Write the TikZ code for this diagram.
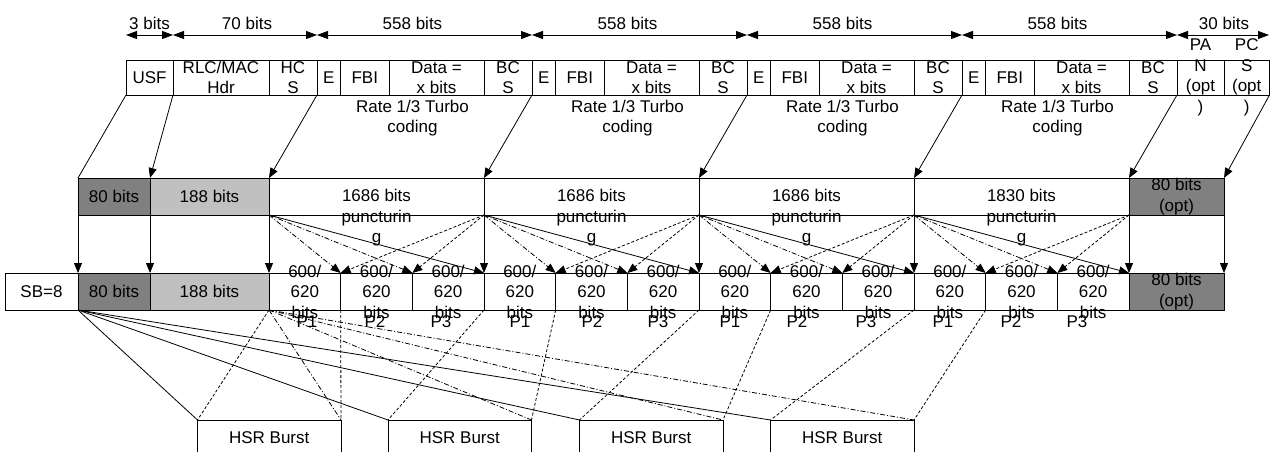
\documentclass[tikz,border=0pt]{standalone}
\usepackage{fontspec}
\setmainfont{Liberation Sans}
\usetikzlibrary{arrows.meta}
\definecolor{dk}{RGB}{128,128,128}
\definecolor{lt}{RGB}{192,192,192}
\begin{document}
\begin{tikzpicture}[x=1pt,y=-1pt,
 box/.style={draw=black,line width=0.8pt,inner sep=0pt,outer sep=0pt,anchor=north west},
 txt/.style={font=\fontsize{17}{20.5}\selectfont,align=center,inner sep=0pt},
 con/.style={line width=0.8pt},
 arr/.style={con,-{Triangle[length=10pt,width=8pt]}},
 dimarr/.style={con,{Triangle[length=11pt,width=8pt]}-{Triangle[length=11pt,width=8pt]}},
 dshort/.style={dash pattern=on 3pt off 2pt},
 ddot/.style={dash pattern=on 5pt off 2pt on 1pt off 2pt},
]
\useasboundingbox (0,0) rectangle (1270,451);
\clip (0,0) rectangle (1270,451);
\fill[white] (0,0) rectangle (1270,451);

% ---------- top row ----------
\node[box,minimum width=47pt,minimum height=35pt] (usf) at (126,60) {};
\node[box,minimum width=96pt,minimum height=35pt] (rlc) at (173,60) {};
\node[box,minimum width=48pt,minimum height=35pt] (hcs) at (269,60) {};
\node[txt] at (usf) {USF};
\node[txt] at (rlc) {RLC/MAC\\Hdr};
\node[txt] at (hcs) {HC\\S};
\foreach \k in {0,...,3}{
 \pgfmathsetmacro\s{317+215*\k}
 \node[box,minimum width=23.5pt,minimum height=35pt] (e\k) at (\s,60) {};
 \node[box,minimum width=48.5pt,minimum height=35pt] (f\k) at (\s+23.5,60) {};
 \node[box,minimum width=95pt,minimum height=35pt] (d\k) at (\s+72,60) {};
 \node[box,minimum width=48pt,minimum height=35pt] (b\k) at (\s+167,60) {};
 \node[txt] at (e\k) {E};
 \node[txt] at (f\k) {FBI};
 \node[txt] at (d\k) {Data =\\x bits};
 \node[txt] at (b\k) {BC\\S};
 \node[txt] at (\s+95.5,23) {558 bits};
 \node[txt] at (\s+95.5,118) {Rate 1/3 Turbo\\coding};
}
\node[box,minimum width=47pt,minimum height=35pt] (pan) at (1177,60) {};
\node[box,minimum width=45.5pt,minimum height=35pt] (pcs) at (1224,60) {};
\node[txt] at (pan) {PA\\N\\(opt\\)};
\node[txt] at (pcs) {PC\\S\\(opt\\)};

% ---------- dimension arrows ----------
\coordinate (dm0) at (126,35);
\coordinate (dm1) at (173,35);
\coordinate (dm2) at (317,35);
\coordinate (dm3) at (532,35);
\coordinate (dm4) at (747,35);
\coordinate (dm5) at (962,35);
\coordinate (dm6) at (1177,35);
\coordinate (dm7) at (1269,35);
\draw[dimarr] (dm0) -- (dm1);
\draw[dimarr] (dm1) -- (dm2);
\draw[dimarr] (dm2) -- (dm3);
\draw[dimarr] (dm3) -- (dm4);
\draw[dimarr] (dm4) -- (dm5);
\draw[dimarr] (dm5) -- (dm6);
\draw[dimarr] (dm6) -- (dm7);
\node[txt] at (149.5,23) {3 bits};
\node[txt] at (247,23) {70 bits};
\node[txt] at (1224,23) {30 bits};

% ---------- second row ----------
\node[box,fill=dk,minimum width=72pt,minimum height=37pt] (ra) at (78,178) {};
\node[box,fill=lt,minimum width=119pt,minimum height=37pt] (rb) at (150,178) {};
\node[txt] at (ra) {80 bits};
\node[txt] at (rb) {188 bits};
\foreach \k/\n in {0/1686,1/1686,2/1686,3/1830}{
 \node[box,minimum width=215pt,minimum height=37pt] (rc\k) at (269+215*\k,178) {};
 \node[txt] at (376.5+215*\k,218) {\n{} bits\\puncturin\\g};
}
\node[box,fill=dk,minimum width=95pt,minimum height=37pt] (rd) at (1129,178) {};
\node[txt] at (rd) {80 bits\\(opt)};

% ---------- third row ----------
\node[box,minimum width=73pt,minimum height=37pt] (sb) at (5,273) {};
\node[box,fill=dk,minimum width=72pt,minimum height=37pt] (r3a) at (78,273) {};
\node[box,fill=lt,minimum width=119pt,minimum height=37pt] (r3b) at (150,273) {};
\node[txt] at (sb) {SB=8};
\node[txt] at (r3a) {80 bits};
\node[txt] at (r3b) {188 bits};
\foreach \k in {0,...,3}{
 \foreach \j in {0,1,2}{
  \node[box,minimum width=71.667pt,minimum height=37pt] (p\k\j) at (269+215*\k+71.667*\j,273) {};
  \node[txt] at (p\k\j) {600/\\620\\bits};
 }
}
\node[box,fill=dk,minimum width=95pt,minimum height=37pt] (r3d) at (1129,273) {};
\node[txt] at (r3d) {80 bits\\(opt)};
\foreach \x/\t in {307/P1,375/P2,441/P3,520/P1,592/P2,658/P3,730/P1,797/P2,866/P3,943/P1,1011/P2,1077/P3}
 \node[txt] at (\x,322) {\t};

% ---------- HSR bursts ----------
\foreach \i/\L in {1/197.5,2/388,3/579.5,4/770.5}{
 \node[box,minimum width=143.5pt,minimum height=60pt] (h\i) at (\L,420) {};
 \node[txt] at (\L+71.75,438) {HSR Burst};
}

% ---------- connectors row 1 -> row 2 ----------
\draw[con] (usf.south west) -- (ra.north west);
\draw[arr] (usf.south east) -- (rb.north west);
\draw[arr] (hcs.south east) -- (rc0.north west);
\draw[arr] (b0.south east) -- (rc1.north west);
\draw[arr] (b1.south east) -- (rc2.north west);
\draw[arr] (b2.south east) -- (rc3.north west);
\draw[arr] (b3.south east) -- (rd.north west);
\draw[arr] (pcs.south east) -- (rd.north east);

% ---------- row 2 -> row 3 ----------
\draw[arr] (ra.south west) -- (r3a.north west);
\draw[arr] (rb.south west) -- (r3b.north west);
\foreach \k in {0,...,3}{
 \draw[arr] (rc\k.south west) -- (p\k0.north west);
 \draw[arr,ddot] (rc\k.south west) -- (p\k0.north east);
 \draw[arr,ddot] (rc\k.south west) -- (p\k1.north east);
 \draw[arr] (rc\k.south west) -- (p\k2.north east);
}
\foreach \k/\m in {1/0,2/1,3/2}{
 \draw[arr,dshort] (rc\k.south west) -- (p\m2.north west);
 \draw[arr,dshort] (rc\k.south west) -- (p\m1.north west);
}
\draw[arr,dshort] (rd.south west) -- (p32.north west);
\draw[arr,dshort] (rd.south west) -- (p31.north west);
\draw[arr] (rd.south west) -- (r3d.north west);
\draw[arr] (rd.south east) -- (r3d.north east);

% ---------- row 3 -> HSR bursts ----------
\foreach \i in {1,...,4}{
 \draw[con] (r3a.south west) -- (h\i.north west);
 \draw[con,ddot] (p00.south west) -- (h\i.north east);
}
\draw[con,dshort] (p00.south west) -- (h1.north west);
\draw[con,dshort] (p10.south west) -- (h2.north west);
\draw[con,dshort] (p20.south west) -- (h3.north west);
\draw[con,dshort] (p30.south west) -- (h4.north west);
\draw[con,dshort] (p01.south west) -- (h1.north east);
\draw[con,dshort] (p11.south west) -- (h2.north east);
\draw[con,dshort] (p21.south west) -- (h3.north east);
\draw[con,dshort] (p31.south west) -- (h4.north east);
\end{tikzpicture}
\end{document}
